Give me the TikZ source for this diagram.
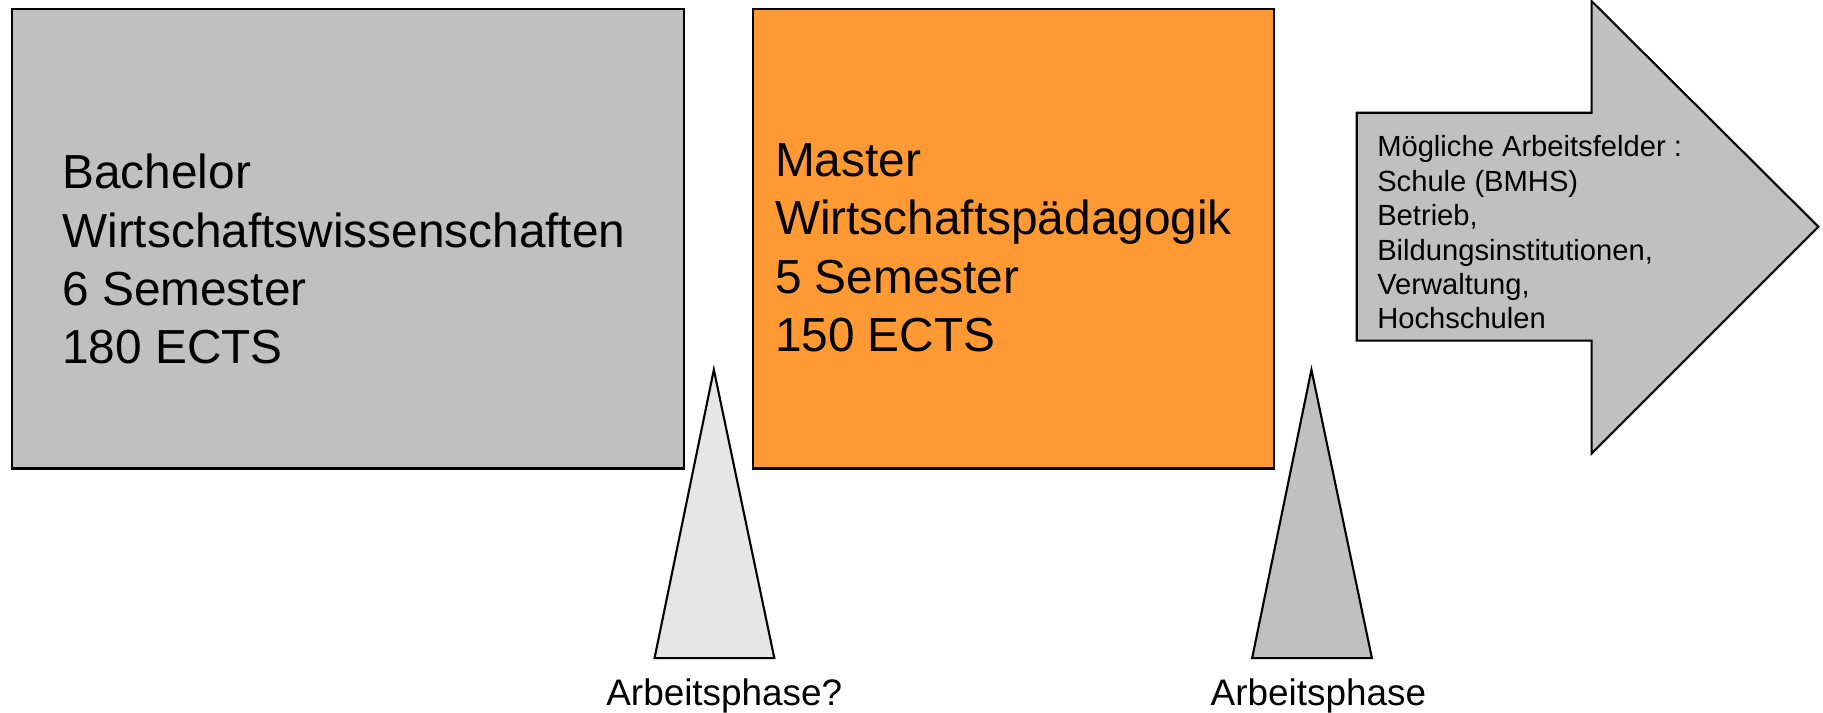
\documentclass[tikz,border=0pt]{standalone}
\usepackage{fontspec}
\setmainfont{Liberation Sans}
\usetikzlibrary{positioning}
\definecolor{boxgray}{HTML}{C0C0C0}
\definecolor{masterorange}{HTML}{FF9933}
\definecolor{phasegray}{HTML}{E6E6E6}
\tikzset{outline/.style={draw=black,line width=0.6pt,line join=miter}}
\tikzset{big text/.style={inner sep=0mm,anchor=north west,align=left,font=\fontsize{13.6}{16.6}\selectfont}}
\tikzset{field text/.style={inner sep=0mm,anchor=north west,align=left,font=\fontsize{8.3}{9.8}\selectfont}}
\tikzset{phase label/.style={inner sep=0mm,anchor=base,font=\fontsize{10.5}{12.6}\selectfont}}

\begin{document}
\begin{tikzpicture}[x=0.011626cm, y=-0.011626cm]

\useasboundingbox (0,0) rectangle (1568,613);

% Bachelor
\draw[outline, fill=boxgray] (10,8) rectangle (588,403);
\node[big text] (bachelor) at (53,132) {Bachelor\\Wirtschaftswissenschaften\\6 Semester\\180 ECTS};

% Master
\draw[outline, fill=masterorange] (648,8) rectangle (1096,403);
\node[big text] (master) at (666,123) {Master\\Wirtschaftspädagogik\\5 Semester\\150 ECTS};

% Arbeitsfelder
\draw[outline, fill=boxgray] (1167,97) -- (1369,97) -- (1369,1) -- (1564,195)
	-- (1369,390) -- (1369,293) -- (1167,293) -- cycle;
\node[field text] (fields) at (1184,116) {Mögliche Arbeitsfelder :\\Schule (BMHS)\\Betrieb,\\Bildungsinstitutionen,\\Verwaltung,\\Hochschulen};

\foreach \n/\x/\l/\c/\t in {phaseq/614/623/phasegray/Arbeitsphase?, phase/1128/1134/boxgray/Arbeitsphase}{
	\draw[outline, fill=\c] (\x,318) -- (\x+52,566) -- (\x-51,566) -- cycle;
	\node[phase label] (\n) at (\l,607) {\t};
}

\end{tikzpicture}
\end{document}
